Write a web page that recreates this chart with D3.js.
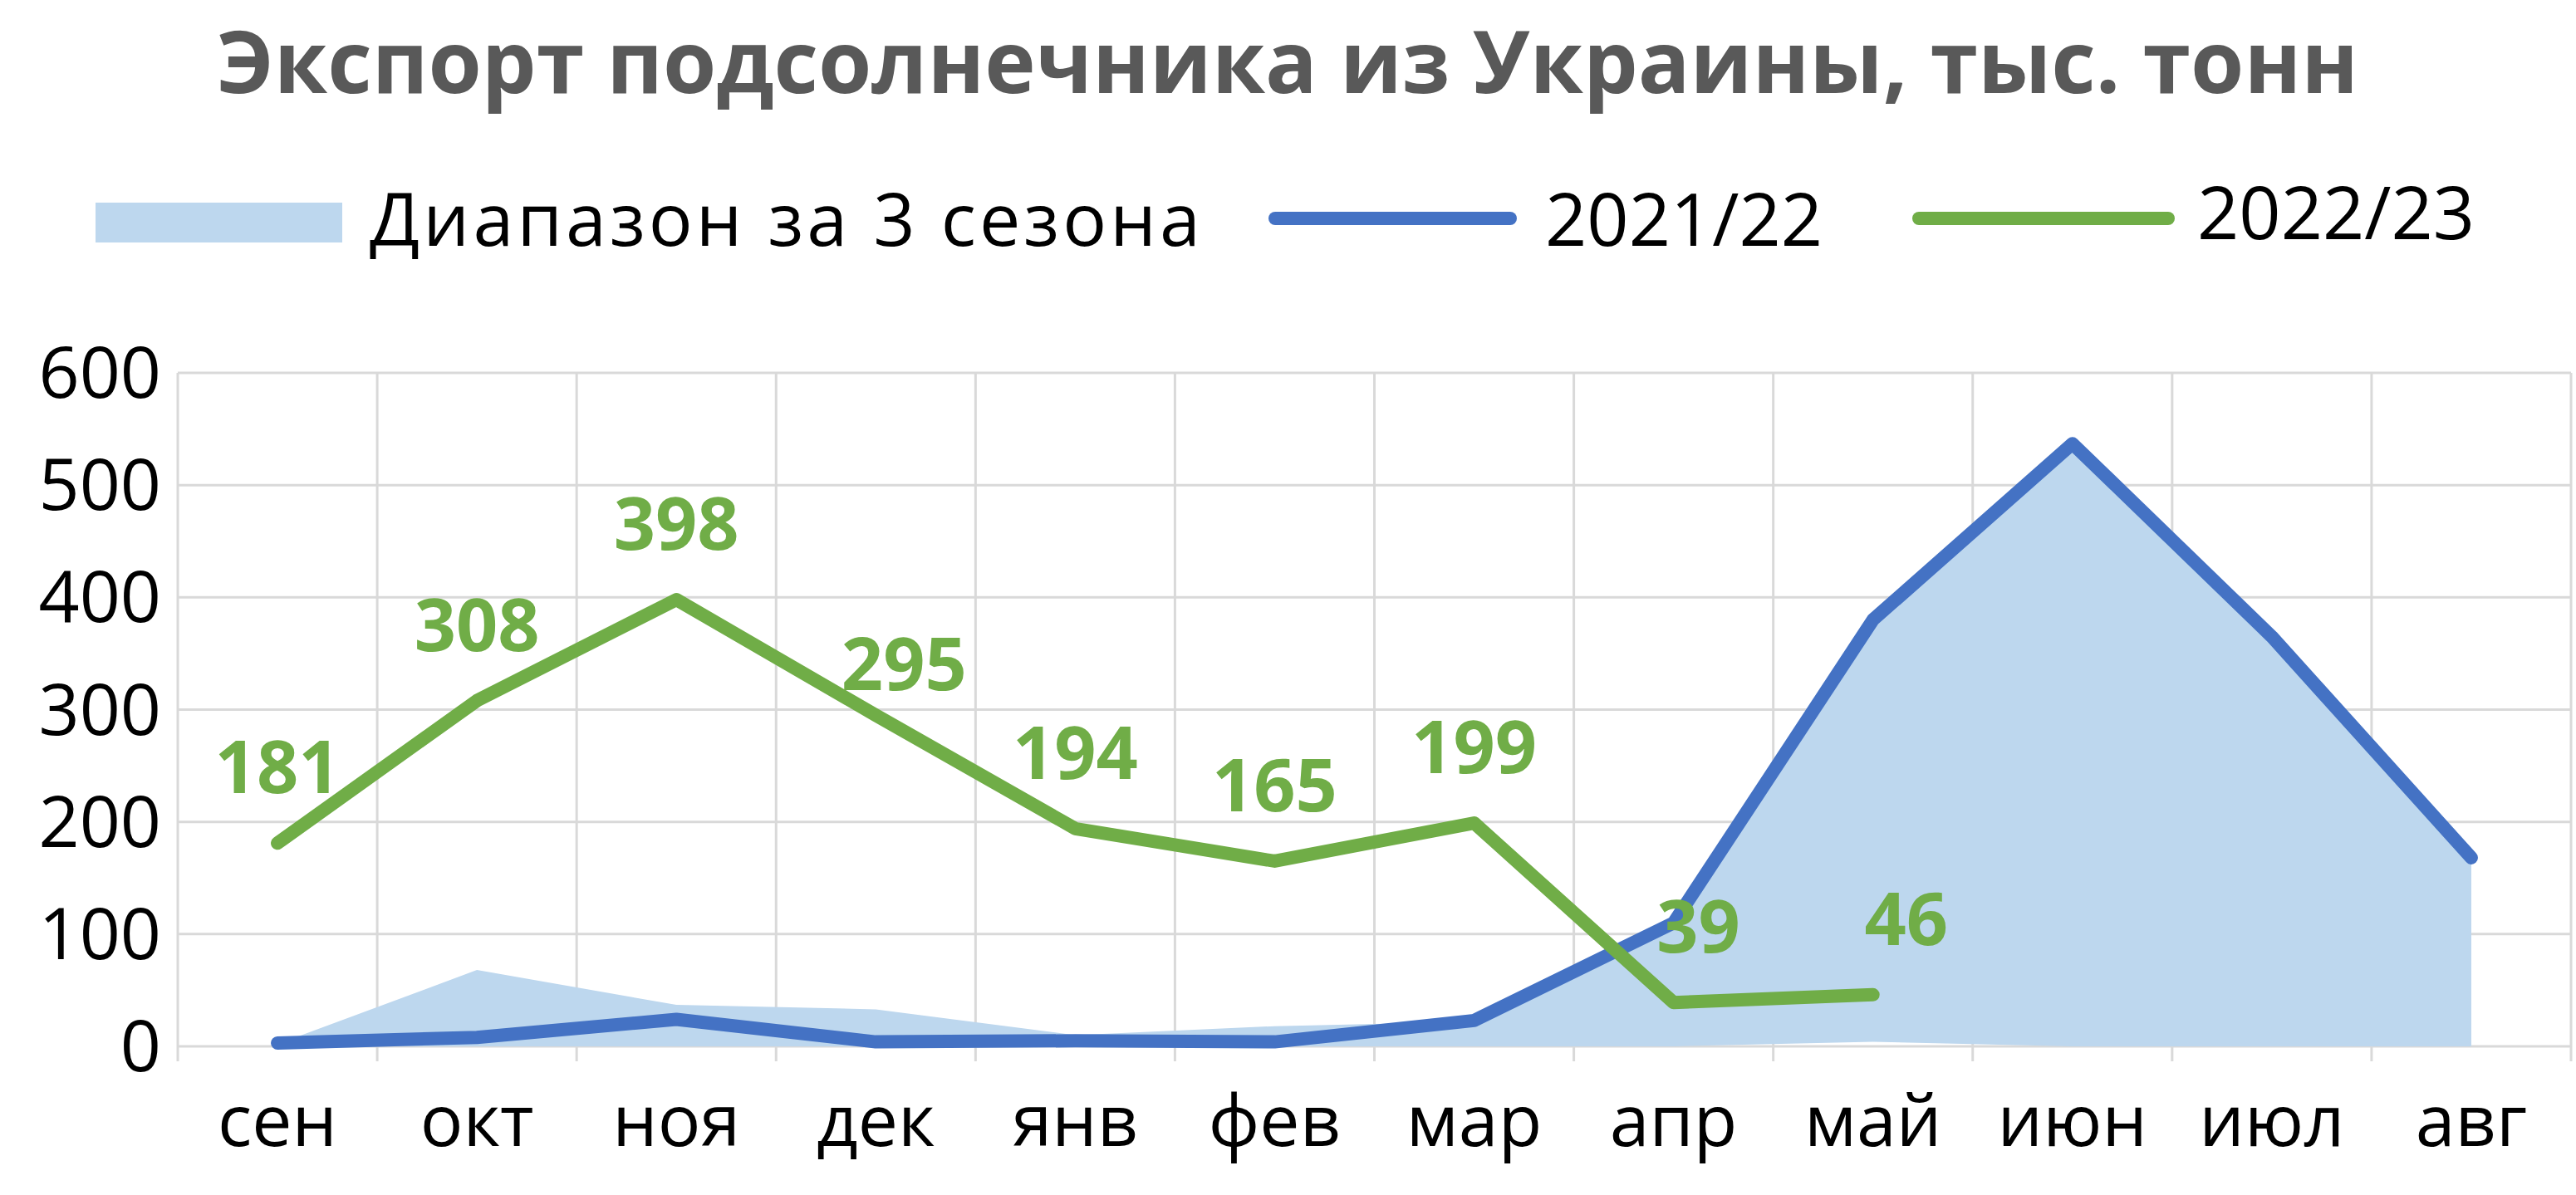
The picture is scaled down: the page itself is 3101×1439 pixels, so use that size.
<!DOCTYPE html><html><head><meta charset="utf-8"><script src="https://cdn.jsdelivr.net/npm/d3@7"></script>
<style>body{margin:0;background:#fff}text{font-family:"Open Sans","Noto Sans",sans-serif}</style></head><body>
<svg id="c" width="3101" height="1439"></svg>
<script>
const months=["сен","окт","ноя","дек","янв","фев","мар","апр","май","июн","июл","авг"];
const bandMax=[2,68,37,33,10,18,22,110,380,537,365,168];
const bandMin=[0,0,0,0,0,0,0,0,4,0,0,0];
const s2122=[3,8,24,4,5,4,23,110,380,537,365,168];
const s2223=[181,308,398,295,194,165,199,39,46];
const yTicks=[0,100,200,300,400,500,600];
const svg=d3.select("#c");
const L=214,R=3095,T=449,B=1260;
const x=d3.scaleBand().domain(months).range([L,R]);
const y=d3.scaleLinear().domain([0,600]).range([B,T]);
const cx=m=>x(m)+x.bandwidth()/2;
const g=svg.append("g");
yTicks.forEach(t=>g.append("line").attr("x1",L).attr("x2",R).attr("y1",y(t)).attr("y2",y(t)).attr("stroke","#d9d9d9").attr("stroke-width",3));
months.concat(["end"]).forEach((m,i)=>{const xx=L+i*x.bandwidth();g.append("line").attr("x1",xx).attr("x2",xx).attr("y1",T).attr("y2",B+18).attr("stroke","#d9d9d9").attr("stroke-width",3);});
yTicks.forEach(t=>g.append("text").attr("x",L-20).attr("y",y(t)+30).attr("text-anchor","end").attr("font-size",86).attr("fill","#000").text(t));
months.forEach(m=>g.append("text").attr("x",cx(m)).attr("y",B+120).attr("text-anchor","middle").attr("font-size",86).attr("fill","#000").text(m));
const area=d3.area().x((d,i)=>cx(months[i])).y0((d,i)=>y(bandMin[i])).y1(d=>y(d));
g.append("path").attr("d",area(bandMax)).attr("fill","#BDD7EE");
const line=d3.line().x((d,i)=>cx(months[i])).y(d=>y(d));
g.append("path").attr("d",line(s2122)).attr("fill","none").attr("stroke","#4472C4").attr("stroke-width",16).attr("stroke-linejoin","round").attr("stroke-linecap","round");
g.append("path").attr("d",line(s2223)).attr("fill","none").attr("stroke","#70AD47").attr("stroke-width",16).attr("stroke-linejoin","round").attr("stroke-linecap","round");
s2223.forEach((v,i)=>g.append("text").attr("x",cx(months[i])+(i==3?34:(i==7?30:(i==8?40:0)))).attr("y",y(v)-60+(i==3?30:0)).attr("text-anchor","middle").attr("font-size",88).attr("font-weight","bold").attr("fill","#70AD47").text(v));
svg.append("text").attr("x",1550).attr("y",112).attr("text-anchor","middle").attr("font-size",104).attr("font-weight","bold").attr("fill","#595959").text("Экспорт подсолнечника из Украины, тыс. тонн");
const lg=svg.append("g");
lg.append("rect").attr("x",115).attr("y",244).attr("width",297).attr("height",48).attr("fill","#BDD7EE");
lg.append("text").attr("x",445).attr("y",296).attr("font-size",88).attr("textLength",1000).text("Диапазон за 3 сезона");
lg.append("line").attr("x1",1535).attr("x2",1818).attr("y1",263).attr("y2",263).attr("stroke","#4472C4").attr("stroke-width",16).attr("stroke-linecap","round");
lg.append("text").attr("x",1860).attr("y",296).attr("font-size",88).text("2021/22");
lg.append("line").attr("x1",2310).attr("x2",2610).attr("y1",263).attr("y2",263).attr("stroke","#70AD47").attr("stroke-width",16).attr("stroke-linecap","round");
lg.append("text").attr("x",2645).attr("y",288).attr("font-size",88).text("2022/23");
</script></body></html>
